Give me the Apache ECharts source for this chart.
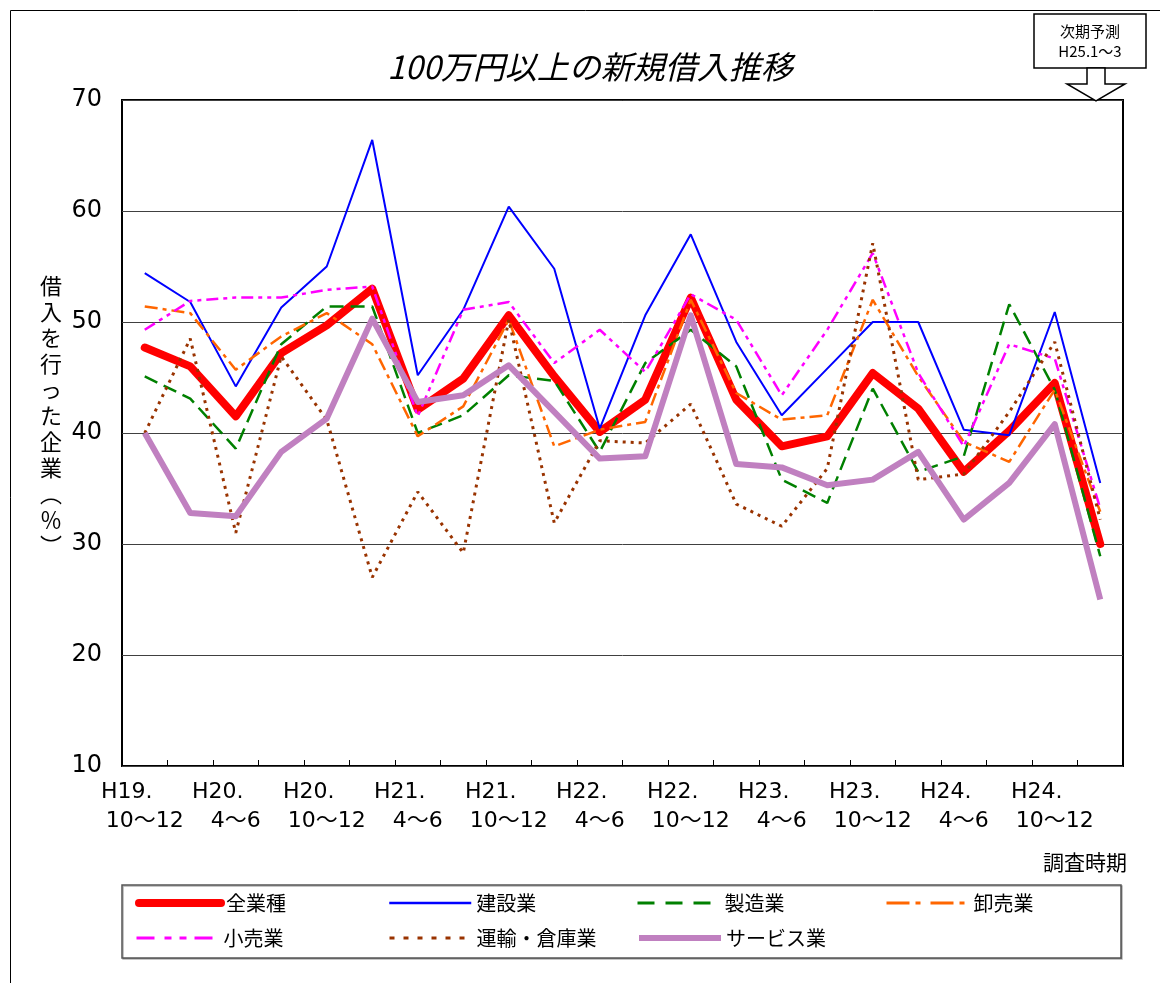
<!DOCTYPE html>
<html>
<head>
<meta charset="utf-8">
<script src="https://cdn.jsdelivr.net/npm/echarts/dist/echarts.min.js"></script>
<style>
    html, body {margin: 0; padding: 0; background: #fff;}
    #main {width: 1160px; height: 983px;}
</style>
</head>
<body>
<div id="main"></div>
<script>
// 調査時期 (四半期)
var periods = ['H19.\n10～12', 'H20.\n1～3', 'H20.\n4～6', 'H20.\n7～9', 'H20.\n10～12', 'H21.\n1～3',
    'H21.\n4～6', 'H21.\n7～9', 'H21.\n10～12', 'H22.\n1～3', 'H22.\n4～6', 'H22.\n7～9',
    'H22.\n10～12', 'H23.\n1～3', 'H23.\n4～6', 'H23.\n7～9', 'H23.\n10～12', 'H24.\n1～3',
    'H24.\n4～6', 'H24.\n7～9', 'H24.\n10～12', 'H25.\n1～3'];

var allIndustry = [47.7, 46.0, 41.5, 47.2, 49.7, 53.0, 42.1, 44.9, 50.6, 45.1, 40.1, 43.0, 52.2, 43.0, 38.8, 39.7, 45.4, 42.2, 36.5, 40.2, 44.5, 30.0];
var construction = [54.4, 51.8, 44.2, 51.3, 55.0, 66.4, 45.2, 51.1, 60.4, 54.8, 40.4, 50.6, 57.9, 48.2, 41.6, 45.8, 50.0, 50.0, 40.3, 39.8, 50.9, 35.5];
var manufacturing = [45.1, 43.1, 38.6, 48.0, 51.4, 51.4, 40.0, 41.6, 45.2, 44.7, 38.3, 46.3, 49.3, 46.0, 35.8, 33.7, 44.0, 36.5, 37.9, 51.6, 43.9, 28.9];
var wholesale = [51.4, 50.8, 45.7, 48.7, 50.8, 48.0, 39.7, 42.4, 50.2, 38.8, 40.3, 41.0, 52.0, 43.6, 41.2, 41.6, 52.0, 45.1, 39.2, 37.4, 43.9, 32.9];
var retail = [49.3, 51.9, 52.2, 52.2, 52.9, 53.2, 41.5, 51.1, 51.8, 46.3, 49.3, 45.5, 52.5, 50.2, 43.4, 49.3, 56.2, 45.4, 38.8, 48.0, 46.7, 33.2];
var transport = [40.0, 48.5, 31.0, 46.9, 41.2, 27.0, 34.7, 29.2, 50.2, 31.9, 39.3, 39.1, 42.6, 33.6, 31.6, 36.8, 57.1, 35.8, 36.3, 41.9, 48.2, 32.2];
var service = [40.0, 32.8, 32.5, 38.3, 41.3, 50.3, 42.8, 43.4, 46.1, 41.9, 37.7, 37.9, 50.6, 37.2, 36.9, 35.3, 35.8, 38.3, 32.2, 35.5, 40.8, 25.0];

var seriesNames = ['全業種', '建設業', '製造業', '卸売業', '小売業', '運輸・倉庫業', 'サービス業'];
var seriesData = [allIndustry, construction, manufacturing, wholesale, retail, transport, service];

var FONT = '"Noto Sans CJK JP", "Noto Sans", sans-serif';
var NUM_FONT = '"DejaVu Sans", "Noto Sans CJK JP", sans-serif';

var lineStyles = [
    {color: '#ff0000', width: 8, type: 'solid', cap: 'round', join: 'round'},
    {color: '#0000ff', width: 2, type: 'solid'},
    {color: '#008000', width: 2.5, type: [14, 7]},
    {color: '#ff6600', width: 2.5, type: [13, 5, 4, 5]},
    {color: '#ff00ff', width: 2.5, type: [12, 5, 4, 5, 4, 5]},
    {color: '#993300', width: 3, type: [3, 5]},
    {color: '#c080c0', width: 6, type: 'solid', join: 'round'}
];
// legend samples are drawn a bit coarser than the plot lines
var legendLines = [
    {color: '#ff0000', width: 8, type: 'solid', cap: 'round'},
    {color: '#0000ff', width: 2.5, type: 'solid'},
    {color: '#008000', width: 3, type: [17, 11]},
    {color: '#ff6600', width: 3, type: [23, 6, 5, 10]},
    {color: '#ff00ff', width: 3, type: [18, 10, 7, 8, 7, 8]},
    {color: '#993300', width: 3, type: [5, 9]},
    {color: '#c080c0', width: 6, type: 'solid'}
];
var legendPos = [[135, 905], [388, 905], [636, 905], [885, 905], [135, 940], [388, 940], [636, 940]];

var series = [];
var legends = [];
for (var i = 0; i < seriesNames.length; i++) {
    series.push({
        name: seriesNames[i],
        type: 'line',
        symbol: 'none',
        data: seriesData[i],
        lineStyle: lineStyles[i],
        itemStyle: {color: lineStyles[i].color}
    });
    legends.push({
        data: [seriesNames[i]],
        left: legendPos[i][0],
        top: legendPos[i][1] - 12,
        itemWidth: 82,
        itemHeight: 24,
        itemGap: 0,
        padding: 0,
        selectedMode: false,
        itemStyle: {opacity: 0},
        lineStyle: legendLines[i],
        textStyle: {fontSize: 20, color: '#000', fontFamily: FONT}
    });
}

var chart = echarts.init(document.getElementById('main'));
var option = {
    animation: false,
    backgroundColor: '#fff',
    grid: {
        left: 122, right: 37, top: 100, bottom: 217,
        show: true, borderColor: '#000', borderWidth: 2, backgroundColor: 'transparent'
    },
    legend: legends,
    xAxis: {
        type: 'category',
        data: periods,
        boundaryGap: true,
        axisLine: {show: false},
        axisTick: {show: true, inside: true, length: 6, interval: 0, lineStyle: {color: '#000'}},
        axisLabel: {
            interval: 1,
            margin: 12,
            color: '#000',
            fontFamily: NUM_FONT,
            fontSize: 22,
            lineHeight: 29,
            formatter: function (v) {
                var p = v.split('\n');
                return '{a|' + p[0] + '}\n{b|' + p[1] + '}';
            },
            rich: {
                a: {fontSize: 22, lineHeight: 29, fontFamily: NUM_FONT, color: '#000', padding: [0, 36, 0, 0]},
                b: {fontSize: 22, lineHeight: 29, fontFamily: NUM_FONT, color: '#000'}
            }
        }
    },
    yAxis: {
        type: 'value',
        min: 10, max: 70, interval: 10,
        axisLine: {show: false},
        axisTick: {show: false},
        axisLabel: {color: '#000', fontSize: 24, fontFamily: NUM_FONT, margin: 20},
        splitLine: {lineStyle: {color: '#404040', width: 1}}
    },
    graphic: [
        {type: 'rect', silent: true, z: -10, shape: {x: 10.5, y: 10.5, width: 1200, height: 1000},
            style: {fill: 'none', stroke: '#000', lineWidth: 1}},
        {type: 'text', x: 590, y: 67, silent: true,
            style: {text: '100万円以上の新規借入推移', fontSize: 32, fontStyle: 'italic', fontFamily: FONT,
                fill: '#000', align: 'center', verticalAlign: 'middle'}},
        {type: 'rect', shape: {x: 1034, y: 14, width: 112, height: 54},
            style: {fill: '#fff', stroke: '#000', lineWidth: 1.5}},
        {type: 'text', x: 1090, y: 31,
            style: {text: '次期予測', fontSize: 15, fontFamily: FONT, fill: '#000', align: 'center', verticalAlign: 'middle'}},
        {type: 'text', x: 1090, y: 51,
            style: {text: 'H25.1～3', fontSize: 15, fontFamily: FONT, fill: '#000', align: 'center', verticalAlign: 'middle'}},
        {type: 'polygon', z: 100,
            shape: {points: [[1087, 68], [1105, 68], [1105, 84], [1125, 84], [1096, 101], [1067, 84], [1087, 84]]},
            style: {fill: '#fff', stroke: '#000', lineWidth: 1.5}},
        {type: 'text', x: 51, y: 416,
            style: {text: '借\n入\nを\n行\nっ\nた\n企\n業\n︵\n％\n︶', fontSize: 22, lineHeight: 26, fontFamily: FONT,
                fill: '#000', align: 'center', verticalAlign: 'middle'}},
        {type: 'text', x: 1085, y: 862,
            style: {text: '調査時期', fontSize: 21, fontFamily: FONT, fill: '#000', align: 'center', verticalAlign: 'middle'}},
        {type: 'rect', z: -5, shape: {x: 122, y: 885, width: 999, height: 73},
            style: {fill: '#fff', stroke: '#555', lineWidth: 1.5, shadowColor: 'rgba(0,0,0,0.3)', shadowOffsetX: 1, shadowOffsetY: 1}}
    ],
    series: series
};
chart.setOption(option);
</script>
</body>
</html>
